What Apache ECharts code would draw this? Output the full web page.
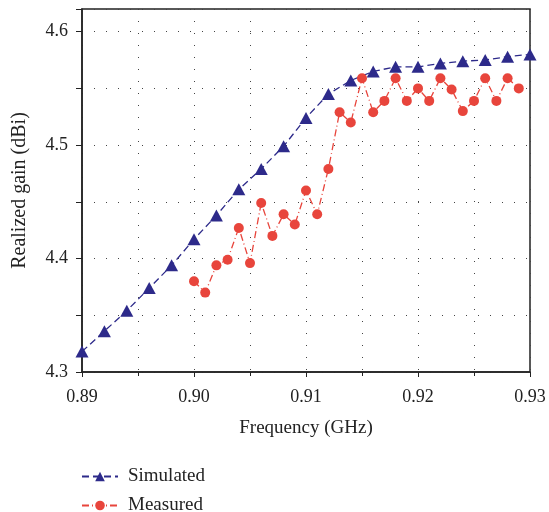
<!DOCTYPE html>
<html><head><meta charset="utf-8">
<script src="https://cdn.jsdelivr.net/npm/echarts@6/dist/echarts.min.js"></script>
<style>html,body{margin:0;padding:0;background:#fff}#c{width:549px;height:512px}</style>
</head><body><div id="c"></div>
<script>
const simFreq = [0.890,0.892,0.894,0.896,0.898,0.900,0.902,0.904,0.906,0.908,0.910,0.912,0.914,0.916,0.918,0.920,0.922,0.924,0.926,0.928,0.930];
const simGain = [4.318,4.336,4.354,4.374,4.394,4.417,4.438,4.461,4.479,4.499,4.524,4.545,4.557,4.565,4.569,4.569,4.572,4.574,4.575,4.578,4.580];
const measFreq = [0.900,0.901,0.902,0.903,0.904,0.905,0.906,0.907,0.908,0.909,0.910,0.911,0.912,0.913,0.914,0.915,0.916,0.917,0.918,0.919,0.920,0.921,0.922,0.923,0.924,0.925,0.926,0.927,0.928,0.929];
const measGain = [4.380,4.370,4.394,4.399,4.427,4.396,4.449,4.420,4.439,4.430,4.460,4.439,4.479,4.529,4.520,4.559,4.529,4.539,4.559,4.539,4.550,4.539,4.559,4.549,4.530,4.539,4.559,4.539,4.559,4.550];
const xTicks = ['0.89','0.90','0.91','0.92','0.93'];
const yTicks = ['4.3','4.4','4.5','4.6'];
const seriesNames = ['Simulated','Measured'];

const font = '"Liberation Serif", "DejaVu Serif", serif';
const dotted = {color:'#444', width:1, type:[1,11]};
const chart = echarts.init(document.getElementById('c'));
chart.setOption({
  animation:false,
  textStyle:{fontFamily:font},
  grid:{left:82,right:19,top:9,bottom:140,show:true,borderColor:'#222',borderWidth:1.5,backgroundColor:'transparent'},
  legend:{
    orient:'vertical', left:81, top:467, height:80, width:200, padding:0, itemGap:10, itemWidth:36, itemHeight:12,
    textStyle:{fontFamily:font,fontSize:19,color:'#222',padding:[0,0,0,5]},
    data:seriesNames
  },
  xAxis:{
    type:'value', min:0.89, max:0.93, interval:0.01,
    name:'Frequency (GHz)', nameLocation:'middle', nameGap:47,
    nameTextStyle:{fontFamily:font,fontSize:19,color:'#222'},
    axisLine:{show:true,onZero:false,lineStyle:{color:'#222',width:1.5}},
    axisTick:{show:true,length:5,inside:false,lineStyle:{color:'#222'}},
    minorTick:{show:true,splitNumber:2,length:4,lineStyle:{color:'#222'}},
    axisLabel:{fontFamily:font,fontSize:18,color:'#222',margin:16,
      formatter:v=>{const s=v.toFixed(2);return xTicks.includes(s)?s:'';}},
    splitLine:{show:true,lineStyle:dotted},
    minorSplitLine:{show:true,lineStyle:dotted}
  },
  yAxis:{
    type:'value', min:4.3, max:4.62, interval:0.1,
    name:'Realized gain (dBi)', nameLocation:'middle', nameGap:52, nameRotate:90,
    nameTextStyle:{fontFamily:font,fontSize:20,color:'#222'},
    axisLine:{show:true,onZero:false,lineStyle:{color:'#222',width:1.5}},
    axisTick:{show:true,length:6,lineStyle:{color:'#222'}},
    minorTick:{show:true,splitNumber:2,length:6,lineStyle:{color:'#222'}},
    axisLabel:{fontFamily:font,fontSize:18,color:'#222',margin:14,showMaxLabel:false,
      formatter:v=>{const s=v.toFixed(1);return (yTicks.includes(s)&&Math.abs(v-parseFloat(s))<1e-6)?s:'';}},
    splitLine:{show:true,lineStyle:dotted},
    minorSplitLine:{show:true,lineStyle:dotted}
  },
  series:[
    {name:seriesNames[0], type:'line', data:simFreq.map((f,i)=>[f,simGain[i]]),
     symbol:'triangle', symbolSize:[13,12], color:'#2d2a8a',
     itemStyle:{color:'#2d2a8a'}, lineStyle:{color:'#2d2a8a',width:1.3,type:[7,4]}, z:3},
    {name:seriesNames[1], type:'line', data:measFreq.map((f,i)=>[f,measGain[i]]),
     symbol:'circle', symbolSize:10, color:'#e8453c',
     itemStyle:{color:'#e8453c'}, lineStyle:{color:'#e8453c',width:1.3,type:[7,3,1,3]}, z:4}
  ]
});
</script></body></html>
